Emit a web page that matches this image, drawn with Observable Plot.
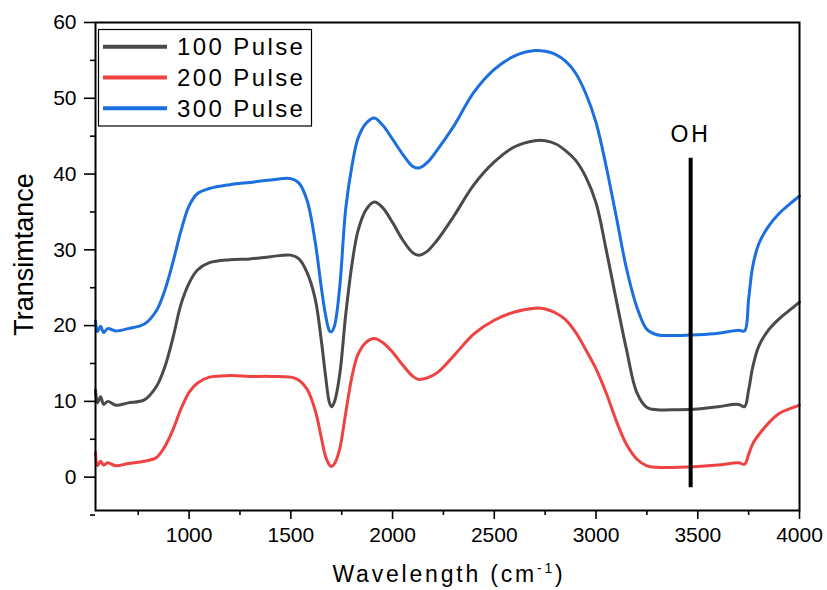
<!DOCTYPE html>
<html>
<head>
<meta charset="utf-8">
<script src="https://cdn.jsdelivr.net/npm/d3@7"></script>
<script src="https://cdn.jsdelivr.net/npm/@observablehq/plot@0.6"></script>
<style>
  html, body { margin: 0; padding: 0; background: #fff; }
  #chart { width: 827px; height: 590px; }
</style>
</head>
<body>
<div id="chart"></div>
<script>
// ---- data ----
const seriesNames = ["100 Pulse", "200 Pulse", "300 Pulse"];
const seriesColors = ["#4a4a4a", "#ef4242", "#1c6fde"];

const wavelength = [540, 550, 565, 580, 600, 640, 700, 780, 840, 880, 920, 960, 1000, 1040, 1100, 1200, 1300, 1400, 1500,
  1540, 1580, 1620, 1650, 1670, 1690, 1700, 1715, 1740, 1770, 1800, 1830, 1870, 1910, 1950, 2000, 2050, 2100, 2130,
  2170, 2220, 2300, 2400, 2500, 2600, 2700, 2750, 2800, 2850, 2900, 2950, 3000, 3050, 3100, 3150, 3200, 3250, 3300,
  3400, 3500, 3600, 3700, 3730, 3750, 3770, 3800, 3850, 3900, 3950, 4000];

const pulse100 = [11.5, 9.8, 10.6, 9.6, 10.0, 9.5, 9.8, 10.2, 12.0, 14.5, 18.3, 22.8, 25.6, 27.3, 28.3, 28.7, 28.8, 29.1, 29.3,
  28.8, 27.0, 23.5, 18.0, 13.5, 9.8, 9.3, 10.0, 13.5, 21.5, 28.0, 32.5, 35.3, 36.3, 35.6, 33.6, 31.3, 29.6, 29.3,
  29.8, 31.3, 34.4, 38.6, 41.6, 43.6, 44.4, 44.4, 44.0, 43.1, 41.8, 39.6, 36.2, 30.0, 23.3, 16.8, 11.2, 9.2, 8.9,
  8.9, 9.0, 9.3, 9.6, 9.3, 11.5, 14.5, 17.3, 19.5, 20.9, 22.0, 23.1];

const pulse200 = [3.3, 1.5, 2.1, 1.6, 1.9, 1.5, 1.8, 2.1, 2.6, 4.0, 6.2, 9.0, 11.2, 12.4, 13.2, 13.4, 13.3, 13.3, 13.2,
  12.8, 11.6, 8.8, 5.2, 2.8, 1.6, 1.4, 1.8, 3.7, 8.5, 13.2, 16.2, 17.8, 18.3, 17.8, 16.5, 14.8, 13.3, 12.9,
  13.1, 13.8, 16.0, 18.9, 20.7, 21.8, 22.3, 22.2, 21.7, 20.8, 19.1, 16.8, 14.3, 11.1, 7.4, 4.3, 2.4, 1.5, 1.3,
  1.3, 1.4, 1.6, 1.9, 1.7, 3.0, 4.4, 5.6, 7.2, 8.4, 9.0, 9.5];

const pulse300 = [20.6, 19.2, 19.9, 19.1, 19.6, 19.3, 19.6, 20.2, 22.0, 24.6, 28.3, 32.5, 35.8, 37.4, 38.1, 38.6, 38.9, 39.2, 39.4,
  38.8, 36.5, 31.0, 25.0, 21.5, 19.3, 19.2, 20.0, 25.0, 35.5, 41.0, 44.7, 46.7, 47.4, 46.5, 44.6, 42.6, 41.0, 40.8,
  41.5, 43.2, 46.3, 50.8, 53.8, 55.6, 56.3, 56.2, 55.8, 54.9, 53.3, 50.6, 46.8, 41.0, 34.3, 27.5, 22.5, 19.5, 18.8,
  18.7, 18.8, 19.0, 19.4, 19.3, 23.5, 27.8, 30.8, 33.2, 34.8, 36.0, 37.1];

const xTicks = [1000, 1500, 2000, 2500, 3000, 3500, 4000];
const xMinorTicks = [750, 1250, 1750, 2250, 2750, 3250, 3750];
const yTicks = [0, 10, 20, 30, 40, 50, 60];
const yMinorTicks = [-5, 5, 15, 25, 35, 45, 55];

const ohLabel = "OH";
const ohWavelength = [3465];
const xLabel = "Wavelength (cm";
const xLabelSup = "-1";
const yLabel = "Transimtance";

// ---- build table ----
const seriesValues = [pulse100, pulse200, pulse300];
const rows = [];
seriesNames.forEach((name, k) => {
  wavelength.forEach((w, i) => rows.push({ w, v: seriesValues[k][i], s: name }));
});

const font = "'Liberation Sans', Arial, sans-serif";

const chart = Plot.plot({
  width: 827,
  height: 590,
  marginLeft: 95,
  marginRight: 28,
  marginTop: 22,
  marginBottom: 80,
  style: { fontFamily: font, background: "#fff", color: "#000" },
  x: { domain: [540, 4000] },
  y: { domain: [-4.4, 60] },
  color: { domain: seriesNames, range: seriesColors },
  marks: [
    Plot.axisX({ ticks: xTicks, tickSize: 9, tickPadding: 8, fontSize: 21, strokeWidth: 1.6, label: null, tickFormat: d => String(d) }),
    Plot.axisX({ ticks: xMinorTicks, tickSize: 5, strokeWidth: 1.6, label: null, tickFormat: () => "" }),
    Plot.axisY({ ticks: yTicks, tickSize: 11, tickPadding: 8, fontSize: 21, strokeWidth: 1.6, label: null, tickFormat: d => String(d) }),
    Plot.axisY({ ticks: yMinorTicks, tickSize: 5, strokeWidth: 1.6, label: null, tickFormat: () => "" }),
    Plot.line(rows, { x: "w", y: "v", stroke: "s", z: "s", strokeWidth: 3, curve: "catmull-rom" }),
    Plot.ruleX(ohWavelength, { x: d => d, y1: 42.1, y2: -1.4, stroke: "#000", strokeWidth: 4 }),
    Plot.text(ohWavelength, { x: d => d, y: 45.2, text: () => ohLabel, fontSize: 23, fill: "#000", textAnchor: "middle", lineAnchor: "middle" }),
    Plot.frame({ stroke: "#000", strokeWidth: 2 })
  ]
});

document.getElementById("chart").appendChild(chart);

const svg = d3.select(chart);
svg.selectAll("text").filter(function () { return this.textContent === ohLabel; })
  .style("letter-spacing", "3px");

// y axis title
svg.append("text")
  .attr("transform", "translate(33,254.5) rotate(-90)")
  .attr("text-anchor", "middle")
  .style("font-family", font)
  .style("font-size", "27px")
  .attr("fill", "#000")
  .text(yLabel);

// x axis title with superscript
const xt = svg.append("text")
  .attr("x", 449)
  .attr("y", 582)
  .attr("text-anchor", "middle")
  .style("font-family", font)
  .style("font-size", "23px")
  .style("letter-spacing", "2.8px")
  .attr("fill", "#000");
xt.append("tspan").text(xLabel);
xt.append("tspan").attr("dy", -9).style("font-size", "14px").text(xLabelSup);
xt.append("tspan").attr("dy", 9).text(")");

// legend
const lg = svg.append("g");
lg.append("rect").attr("x", 98.5).attr("y", 29.5).attr("width", 213).attr("height", 96.5)
  .attr("fill", "#fff").attr("stroke", "#000").attr("stroke-width", 1.2);
seriesNames.forEach((name, i) => {
  const cy = 46.7 + i * 30.8;
  lg.append("line").attr("x1", 103).attr("x2", 167).attr("y1", cy).attr("y2", cy)
    .attr("stroke", seriesColors[i]).attr("stroke-width", 4);
  lg.append("text").attr("x", 177).attr("y", cy + 8.5)
    .attr("text-anchor", "start")
    .style("font-family", font).style("font-size", "24px").style("letter-spacing", "2.4px")
    .attr("fill", "#000").text(name);
});
</script>
</body>
</html>
